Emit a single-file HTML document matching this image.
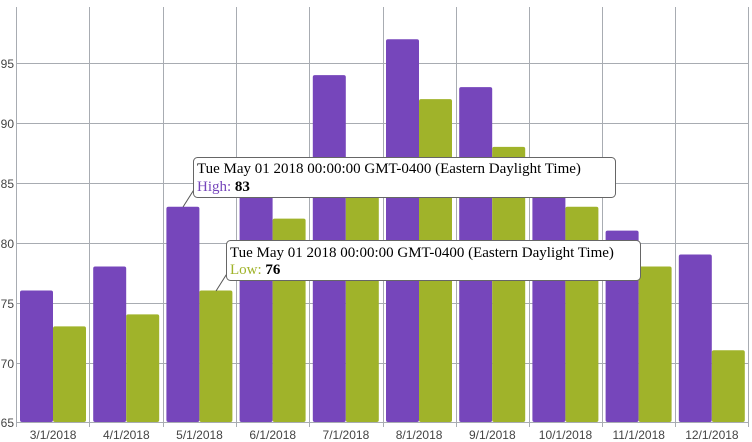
<!DOCTYPE html>
<html><head><style>body{margin:0;background:#fff}svg{display:block}</style></head><body>
<svg width="752" height="442" xmlns="http://www.w3.org/2000/svg" font-family="Liberation Sans, sans-serif">
<g stroke="#a8acb2" stroke-width="1">
<line x1="16" y1="63.5" x2="748" y2="63.5"/><line x1="16" y1="123.5" x2="748" y2="123.5"/>
<line x1="16" y1="183.5" x2="748" y2="183.5"/><line x1="16" y1="243.5" x2="748" y2="243.5"/>
<line x1="16" y1="303.5" x2="748" y2="303.5"/><line x1="16" y1="363.5" x2="748" y2="363.5"/>
<line x1="16" y1="422.5" x2="748" y2="422.5"/>
<line x1="16.5" y1="7" x2="16.5" y2="427"/><line x1="89.5" y1="7" x2="89.5" y2="427"/>
<line x1="163.5" y1="7" x2="163.5" y2="427"/><line x1="236.5" y1="7" x2="236.5" y2="427"/>
<line x1="309.5" y1="7" x2="309.5" y2="427"/><line x1="383.5" y1="7" x2="383.5" y2="427"/>
<line x1="456.5" y1="7" x2="456.5" y2="427"/><line x1="529.5" y1="7" x2="529.5" y2="427"/>
<line x1="602.5" y1="7" x2="602.5" y2="427"/><line x1="675.5" y1="7" x2="675.5" y2="427"/>
<line x1="748.5" y1="7" x2="748.5" y2="427"/>
</g>
<g font-size="12" fill="#444" text-anchor="end">
<text x="14" y="68">95</text><text x="14" y="128">90</text><text x="14" y="188">85</text>
<text x="14" y="248">80</text><text x="14" y="308">75</text><text x="14" y="368">70</text><text x="14" y="427">65</text>
</g>
<g id="bars"></g>
<g font-size="12" fill="#444" text-anchor="middle" id="xl"></g>
<script>
var hi=[76,78,83,86,94,97,93,86,81,79],lo=[73,74,76,82,84,92,88,83,78,71];
var b=document.getElementById('bars'),xl=document.getElementById('xl'),ns='http://www.w3.org/2000/svg';
function Y(v){return 422-(v-65)*11.96;}
function r(x,v,c){var e=document.createElementNS(ns,'rect');e.setAttribute('x',x);e.setAttribute('y',Y(v));e.setAttribute('width',33);e.setAttribute('height',422-Y(v));e.setAttribute('rx',2);e.setAttribute('fill',c);b.appendChild(e);}
for(var i=0;i<10;i++){var x0=16.5+i*73.2;r(x0+3.5,hi[i],'#7646bb');r(x0+36.5,lo[i],'#a0b32a');
var t=document.createElementNS(ns,'text');t.setAttribute('x',x0+36.6);t.setAttribute('y',439);t.textContent=(i+3)+'/1/2018';xl.appendChild(t);}
</script>
<g font-family="Liberation Serif, serif" font-size="15">
<line x1="183" y1="207" x2="195" y2="188" stroke="#555"/>
<rect x="193.5" y="157.5" width="422" height="40" rx="4" fill="#fff" stroke="#666"/>
<text x="197" y="173" fill="#000">Tue May 01 2018 00:00:00 GMT-0400 (Eastern Daylight Time)</text>
<text x="197" y="191"><tspan fill="#7646bb">High: </tspan><tspan font-weight="bold" fill="#000">83</tspan></text>
<line x1="216" y1="291" x2="228" y2="272" stroke="#555"/>
<rect x="226.5" y="240.5" width="414" height="40" rx="4" fill="#fff" stroke="#666"/>
<text x="230" y="257" fill="#000">Tue May 01 2018 00:00:00 GMT-0400 (Eastern Daylight Time)</text>
<text x="230" y="274"><tspan fill="#a0b32a">Low: </tspan><tspan font-weight="bold" fill="#000">76</tspan></text>
</g>
</svg>
</body></html>
